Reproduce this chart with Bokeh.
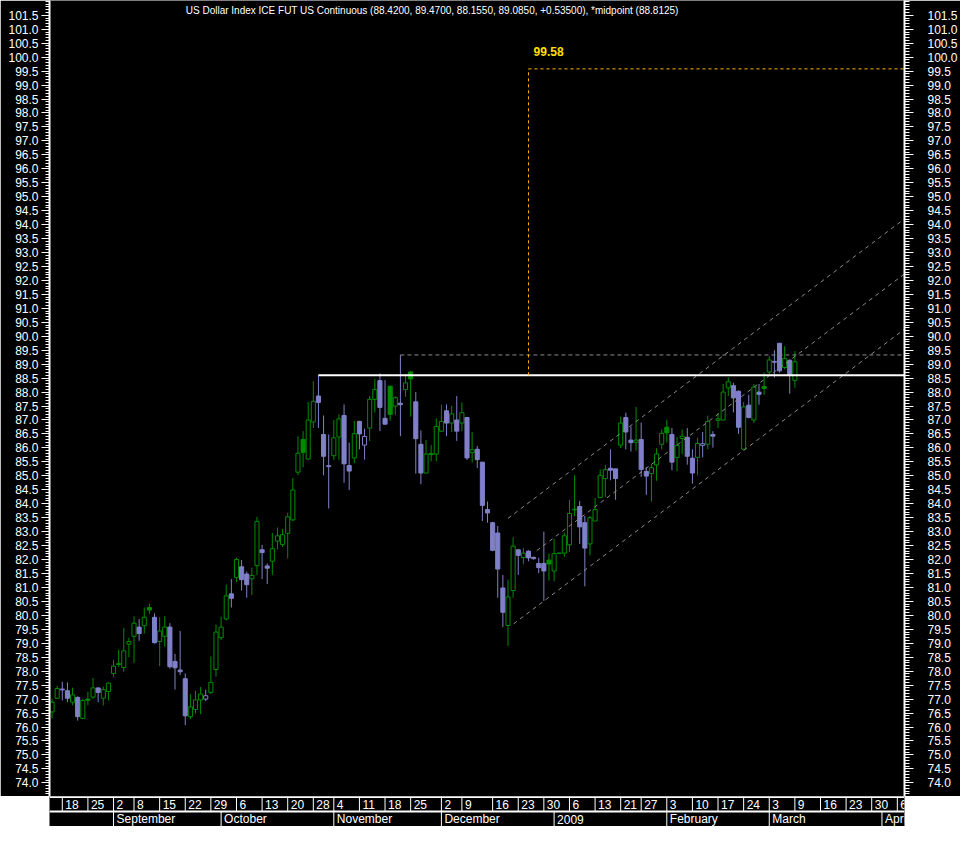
import numpy as np
from bokeh.plotting import figure
from bokeh.models import ColumnDataSource, Range1d, LinearAxis, FixedTicker, Label, NumeralTickFormatter
from bokeh.layouts import column
from bokeh.embed import file_html
from bokeh.resources import INLINE
from bokeh.core.properties import value

# ---------------- data (daily bars, Aug 2008 - Mar 2009) ----------------
opens = [76.54, 77.03, 77.36, 77.30, 76.89, 77.06, 76.31, 77.00, 77.07, 77.40,
         77.03, 77.27, 77.92, 78.27, 78.13, 78.97, 79.25, 79.58, 79.63, 80.28,
         79.93, 79.06, 79.25, 79.58, 78.35, 78.04, 77.73, 76.37, 76.63, 76.97,
         77.00, 77.24, 78.06, 79.20, 79.87, 80.77, 81.36, 81.74, 81.48, 81.31,
         81.78, 82.35, 81.77, 81.94, 82.66, 82.54, 82.94, 83.42, 85.13, 86.30,
         85.60, 86.93, 87.86, 86.48, 85.36, 85.72, 86.39, 87.16, 85.37, 85.64,
         86.95, 86.10, 86.71, 87.74, 88.41, 87.06, 88.21, 87.50, 87.60, 88.09,
         88.72, 87.65, 86.13, 85.10, 85.76, 85.78, 86.60, 87.33, 86.89, 87.00,
         86.89, 87.09, 85.83, 85.95, 85.49, 83.79, 83.32, 82.95, 80.98, 79.64,
         80.89, 82.35, 82.07, 82.30, 82.08, 81.86, 81.86, 81.98, 81.59, 82.22,
         82.23, 82.53, 83.78, 83.90, 83.32, 82.56, 83.38, 84.22, 84.90, 85.27,
         85.25, 86.10, 87.09, 86.28, 86.20, 86.30, 85.16, 85.08, 85.39, 86.13,
         86.74, 86.48, 85.66, 86.34, 86.38, 85.63, 85.66, 86.09, 86.13, 86.48,
         86.99, 87.00, 88.15, 88.23, 88.03, 85.95, 87.53, 87.00, 88.00, 88.20,
         88.72, 89.10, 89.75, 88.88, 89.14, 88.42]
highs = [77.01, 77.48, 77.62, 77.60, 77.41, 77.10, 77.01, 77.27, 77.76, 77.42,
         77.45, 77.60, 78.41, 78.76, 79.55, 79.20, 79.97, 79.87, 80.28, 80.42,
         80.07, 79.93, 79.97, 79.72, 78.62, 79.44, 77.92, 77.18, 77.30, 77.44,
         77.34, 78.53, 79.67, 79.95, 81.10, 81.30, 82.07, 81.98, 81.57, 81.71,
         83.53, 82.53, 81.86, 82.95, 83.15, 83.09, 83.67, 84.92, 86.42, 86.60,
         87.65, 88.39, 88.61, 87.16, 86.48, 87.00, 87.20, 87.56, 86.19, 86.97,
         86.97, 86.69, 87.86, 88.47, 88.67, 88.43, 88.23, 87.85, 89.33, 88.64,
         88.76, 88.00, 86.63, 86.28, 86.10, 87.06, 87.55, 87.56, 87.50, 87.86,
         87.63, 87.09, 86.57, 86.07, 85.49, 84.08, 83.35, 83.20, 81.45, 81.28,
         82.80, 82.36, 82.41, 82.33, 82.10, 82.06, 83.00, 82.21, 82.74, 82.24,
         82.97, 84.14, 85.02, 84.10, 83.56, 83.56, 84.20, 85.22, 85.39, 85.95,
         85.25, 87.12, 87.26, 86.77, 87.47, 86.91, 85.31, 85.43, 85.99, 86.66,
         87.01, 86.71, 86.39, 86.66, 86.71, 85.95, 86.36, 86.57, 87.16, 86.60,
         87.24, 88.29, 88.53, 88.33, 88.06, 87.65, 87.90, 88.29, 88.29, 88.70,
         89.29, 89.50, 89.75, 89.64, 89.17, 89.47]
lows = [76.31, 77.01, 76.95, 76.89, 76.78, 76.23, 76.28, 76.78, 77.01, 76.89,
        76.77, 76.95, 77.80, 78.15, 77.98, 78.50, 78.30, 79.09, 79.35, 80.05,
        78.99, 78.18, 78.88, 78.09, 77.34, 77.86, 76.07, 76.29, 76.48, 76.46,
        76.93, 77.18, 77.80, 79.11, 79.82, 80.28, 81.19, 80.89, 80.63, 80.73,
        81.45, 81.30, 81.12, 81.45, 82.36, 82.45, 82.04, 83.38, 85.02, 85.31,
        85.58, 86.71, 86.71, 85.02, 83.83, 85.57, 85.57, 84.75, 84.49, 85.45,
        85.95, 85.58, 86.25, 87.27, 86.60, 86.83, 86.97, 87.18, 86.42, 87.83,
        87.12, 85.08, 84.70, 85.10, 85.52, 85.52, 86.57, 86.42, 86.57, 86.25,
        86.60, 85.57, 85.48, 85.28, 83.38, 83.32, 82.30, 80.63, 79.58, 78.90,
        80.63, 81.45, 81.83, 81.94, 82.00, 81.51, 80.52, 81.24, 81.22, 82.20,
        82.10, 82.27, 83.56, 82.56, 81.04, 82.15, 83.38, 84.20, 84.24, 84.84,
        84.14, 85.99, 85.95, 85.87, 85.90, 84.96, 84.32, 84.08, 84.82, 85.95,
        86.19, 85.20, 85.17, 85.78, 85.40, 84.72, 85.02, 85.66, 85.95, 86.01,
        86.71, 86.99, 87.86, 87.27, 86.50, 85.95, 87.06, 86.89, 87.55, 87.90,
        88.64, 88.52, 88.70, 88.82, 87.94, 88.155]
closes = [76.89, 77.38, 77.33, 77.03, 77.15, 76.37, 76.95, 76.96, 77.40, 77.24,
          77.34, 77.57, 78.18, 78.24, 78.73, 79.06, 79.72, 79.35, 79.93, 80.19,
          79.02, 79.44, 79.58, 78.16, 78.12, 77.98, 76.40, 76.72, 76.97, 77.18,
          77.12, 77.60, 79.40, 79.58, 80.70, 80.61, 82.00, 81.28, 81.10, 81.43,
          83.36, 82.25, 81.69, 82.39, 82.85, 82.89, 83.53, 84.49, 85.81, 85.84,
          87.00, 87.67, 87.63, 85.70, 85.33, 86.36, 87.04, 85.43, 85.17, 86.51,
          86.50, 86.41, 87.74, 88.09, 87.45, 86.85, 87.20, 87.80, 87.55, 88.33,
          88.47, 86.33, 85.10, 85.78, 85.80, 86.77, 86.95, 86.89, 87.22, 86.60,
          87.26, 85.64, 85.93, 85.58, 83.94, 83.67, 82.33, 81.66, 80.11, 80.66,
          82.48, 82.15, 82.23, 82.06, 82.03, 81.71, 81.59, 81.84, 82.21, 82.23,
          82.85, 83.65, 83.80, 83.17, 82.41, 83.50, 83.79, 85.02, 85.22, 85.20,
          84.90, 86.89, 86.57, 86.19, 86.28, 85.23, 84.99, 85.29, 85.78, 86.52,
          86.54, 85.49, 86.09, 86.42, 85.70, 85.10, 86.16, 86.15, 86.95, 86.42,
          87.04, 88.00, 88.37, 87.79, 86.74, 87.47, 87.09, 88.18, 87.92, 88.13,
          89.15, 89.07, 88.76, 89.20, 88.62, 89.085]

# date strip (bar index of first bar of each labelled week / month)
day_tick_idx = [2, 7, 12, 16, 21, 26, 31, 36, 41, 46, 51, 55, 60, 65, 70, 76, 80,
                86, 91, 96, 101, 106, 111, 115, 120, 125, 130, 135, 140, 145,
                150, 155, 160, 165]
day_tick_labels = ["18", "25", "2", "8", "15", "22", "29", "6", "13", "20", "28",
                   "4", "11", "18", "25", "2", "9", "16", "23", "30", "6", "13",
                   "21", "27", "3", "10", "17", "24", "3", "9", "16", "23", "30", "6"]
month_idx = [12, 33, 55, 76, 98, 120, 140, 162]
month_labels = ["September", "October", "November", "December", "2009",
                "February", "March", "April"]

# annotations
title_text = ("US Dollar Index ICE FUT US Continuous (88.4200, 89.4700, 88.1550, "
              "89.0850, +0.53500), *midpoint (88.8125)")
resistance_level = 88.6
resistance_start = 52
prior_high_level = 89.33
prior_high_start = 68
target_level = 99.58
target_start = 93
channel_x0 = [89.0, 94.6, 90.1]
channel_y0 = [83.475, 82.318, 79.697]
channel_x1 = [166.4, 166.4, 166.4]
channel_y1 = [94.208, 92.233, 90.255]

# ---------------- styling ----------------
GREEN = "#008C00"
PURPLE = "#8080C8"
FONT = "Liberation Sans"
X_START, X_END = -0.5, 166.4
Y_START, Y_END = 73.51, 102.03
LB, RB = 49, 53
W = 960

N = len(closes)
xs = list(range(N))
colors, fills, tops, bottoms = [], [], [], []
for i in range(N):
    prev = closes[i - 1] if i > 0 else opens[0]
    col = GREEN if closes[i] >= prev else PURPLE
    colors.append(col)
    fills.append("black" if closes[i] > opens[i] else col)
    tops.append(max(opens[i], closes[i]))
    bottoms.append(min(opens[i], closes[i]))

src = ColumnDataSource(dict(x=xs, o=opens, h=highs, l=lows, c=closes,
                            top=tops, bottom=bottoms, color=colors, fill=fills))

p = figure(width=W, height=796, x_range=Range1d(X_START, X_END),
           y_range=Range1d(Y_START, Y_END), output_backend="svg",
           toolbar_location=None, x_axis_location=None, y_axis_location=None,
           background_fill_color="black", border_fill_color="black",
           min_border_left=LB, min_border_right=RB, min_border_top=0,
           min_border_bottom=0, outline_line_color=None)
p.grid.visible = False

major = list(np.arange(74.0, 101.51, 0.5))
minor = list(np.arange(73.6, 102.01, 0.1))
for loc, standoff, tick_out, minor_out in (("left", 3, 8, 4), ("right", 14, 9, 5)):
    ax = LinearAxis(ticker=FixedTicker(ticks=major, minor_ticks=minor),
                    formatter=NumeralTickFormatter(format="0.0"))
    ax.axis_line_color = "white"
    ax.axis_line_width = 2
    ax.major_tick_line_color = "white"
    ax.minor_tick_line_color = "white"
    ax.major_tick_in = 0
    ax.major_tick_out = tick_out
    ax.minor_tick_in = 0
    ax.minor_tick_out = minor_out
    ax.major_label_text_color = "white"
    ax.major_label_text_font = FONT
    ax.major_label_text_font_size = "12px"
    ax.major_label_standoff = standoff
    p.add_layout(ax, loc)

# candles
p.segment(x0="x", y0="l", x1="x", y1="h", line_color="color", line_width=1, source=src)
p.vbar(x="x", top="top", bottom="bottom", width=0.8, fill_color="fill",
       line_color="color", line_width=1, source=src)

# channel
p.segment(x0=channel_x0, y0=channel_y0, x1=channel_x1, y1=channel_y1,
          line_color="#8a8a8a", line_width=1, line_dash="4 4")
# prior high dashed
p.segment(x0=[prior_high_start], y0=[prior_high_level], x1=[X_END], y1=[prior_high_level],
          line_color="#8a8a8a", line_width=1, line_dash="4 3")
# resistance
p.segment(x0=[resistance_start], y0=[resistance_level], x1=[X_END], y1=[resistance_level],
          line_color="white", line_width=2)
# target box
p.segment(x0=[target_start, target_start], y0=[resistance_level, target_level],
          x1=[target_start, X_END], y1=[target_level, target_level],
          line_color="#FFB400", line_width=1, line_dash="3 3")
p.add_layout(Label(x=target_start + 1.0, y=target_level + 0.63, text="99.58",
                   text_color="#FFE000", text_font=FONT, text_font_size="12px",
                   text_font_style="bold", text_baseline="middle", text_align="left"))
p.add_layout(Label(x=26.1, y=101.68, text=title_text, text_color="white",
                   text_font=FONT, text_font_size="10px", text_baseline="middle",
                   text_align="left"))

# ---------------- date strip ----------------
s = figure(width=W, height=30, x_range=p.x_range, y_range=Range1d(0, 2),
           output_backend="svg", toolbar_location=None, x_axis_location=None,
           y_axis_location=None, background_fill_color="black",
           border_fill_color="white", min_border_left=LB, min_border_right=RB,
           min_border_top=0, min_border_bottom=0, outline_line_color=None)
s.grid.visible = False
s.segment(x0=[X_START], y0=[1.97], x1=[X_END], y1=[1.97], line_color="white", line_width=2)
s.segment(x0=[X_START], y0=[1.0], x1=[X_END], y1=[1.0], line_color="white", line_width=2)
s.segment(x0=day_tick_idx, y0=[1] * len(day_tick_idx), x1=day_tick_idx,
          y1=[2] * len(day_tick_idx), line_color="white", line_width=1)
s.text(x=day_tick_idx, y=[1.5] * len(day_tick_idx), text=day_tick_labels,
       x_offset=3, text_baseline="middle", text_align="left", text_color="white",
       text_font=value(FONT), text_font_size="12px")
s.segment(x0=month_idx, y0=[0] * len(month_idx), x1=month_idx,
          y1=[1] * len(month_idx), line_color="white", line_width=1)
s.text(x=month_idx, y=[0.5] * len(month_idx), text=month_labels,
       x_offset=3, text_baseline="middle", text_align="left", text_color="white",
       text_font=value(FONT), text_font_size="12px")

layout = column(p, s, spacing=0)
open("out.html", "w").write(file_html(layout, INLINE))
